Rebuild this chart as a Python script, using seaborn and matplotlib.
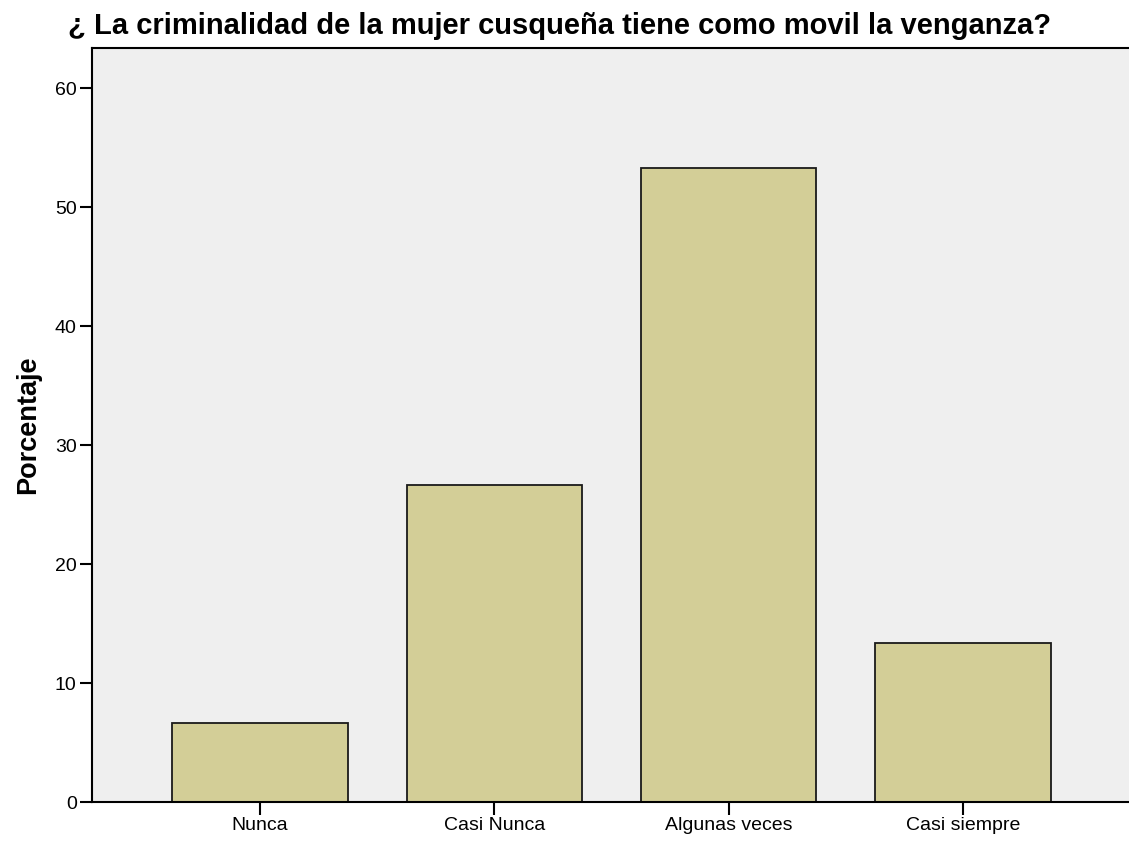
import pandas as pd
import numpy as np
from matplotlib import pyplot as plt
import seaborn as sns

# percentages (n=15: 1, 4, 8, 2)
categorias = ['Nunca', 'Casi Nunca', 'Algunas veces', 'Casi siempre']
porcentajes = [6.67, 26.67, 53.33, 13.33]
yticks = [0, 10, 20, 30, 40, 50, 60]

df = pd.DataFrame({'respuesta': categorias, 'porcentaje': porcentajes})

sns.set_style('white')
plt.rcParams['font.family'] = ['Liberation Sans', 'DejaVu Sans']
plt.rcParams['text.color'] = 'black'
plt.rcParams['axes.labelcolor'] = 'black'

fig = plt.figure(figsize=(11.29, 8.42), dpi=100)
ax = fig.add_axes([0.0815, 0.0475, 0.9185, 0.8955])
ax.set_facecolor('#efefef')

sns.barplot(data=df, x='respuesta', y='porcentaje', color='#d3ce97', width=0.75,
            edgecolor='#1a1a1a', linewidth=1.3, saturation=1, ax=ax)

ax.set_xlim(-0.718, 3.71)
ax.set_ylim(0, 63.4)
ax.set_yticks(yticks)
ax.tick_params(axis='both', left=True, bottom=True, direction='out', length=9,
               width=1.5, colors='black', labelsize=14, pad=2)
for s in ['left', 'bottom', 'top']:
    ax.spines[s].set_color('black')
    ax.spines[s].set_linewidth(1.5)
ax.spines['right'].set_visible(False)

ax.set_xlabel('')
ax.set_ylabel('Porcentaje', fontsize=19.5, fontweight='bold', labelpad=10)
fig.text(0.06, 0.9695, '¿ La criminalidad de la mujer cusqueña tiene como movil la venganza?',
         fontsize=21, fontweight='bold', va='center', ha='left')

plt.savefig('out.png', dpi=100)
